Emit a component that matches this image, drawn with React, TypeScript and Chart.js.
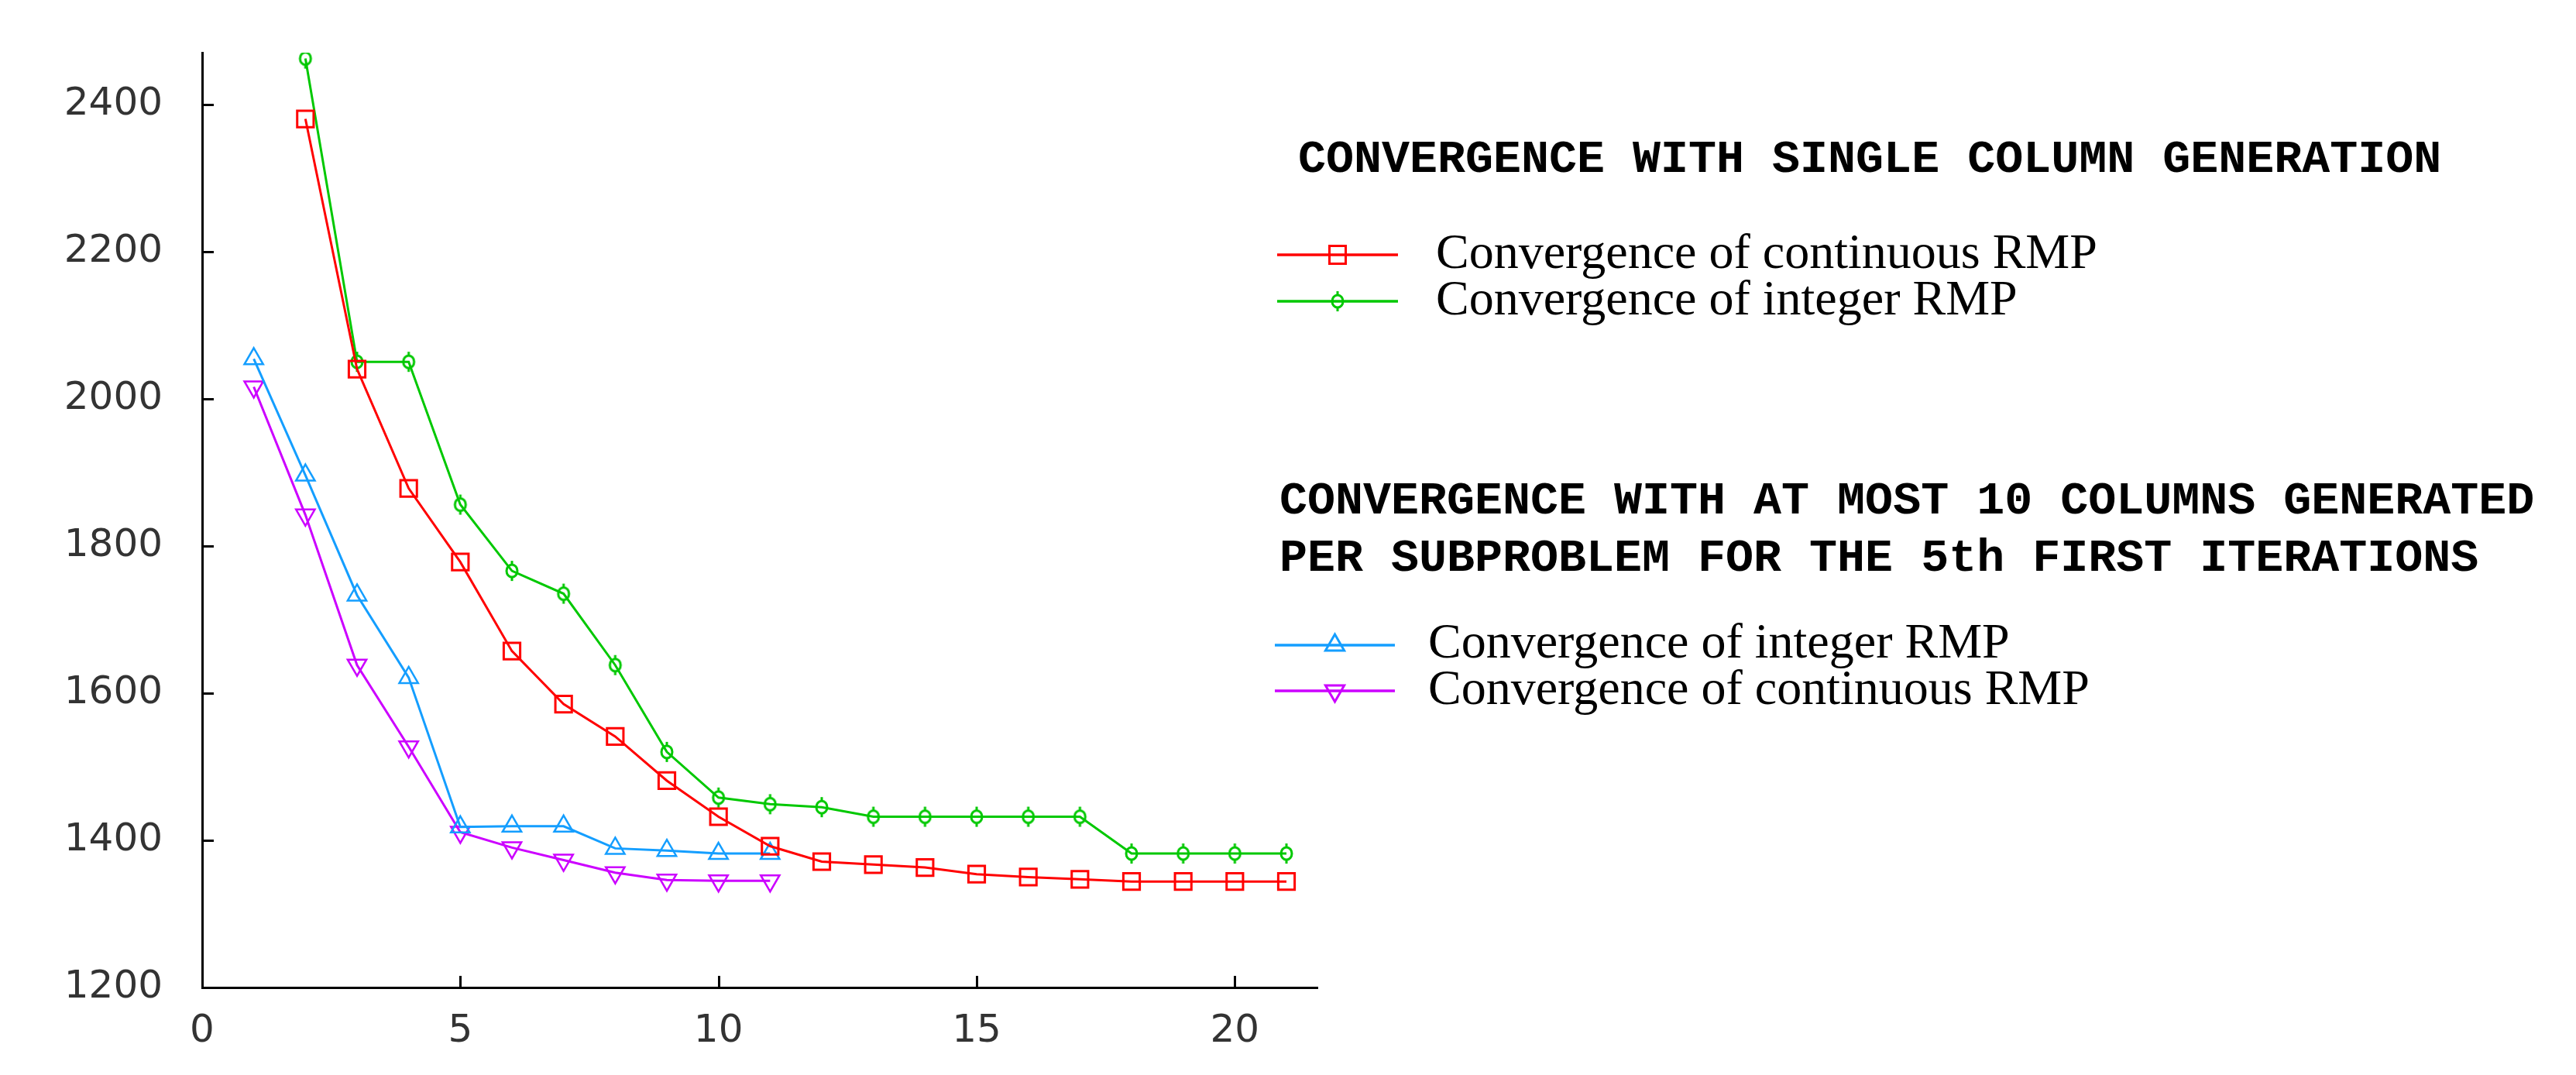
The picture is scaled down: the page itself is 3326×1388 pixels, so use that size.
import React, { useEffect, useRef } from "react";
import { Chart, registerables } from "chart.js";

Chart.register(...registerables);

const W = 3326;
const H = 1388;

// ---- data ----
const singleIterations = [2, 3, 4, 5, 6, 7, 8, 9, 10, 11, 12, 13, 14, 15, 16, 17, 18, 19, 20, 21];
const singleContinuous = [2380, 2040, 1878, 1778, 1657, 1585, 1541, 1481, 1432, 1392, 1371, 1367, 1363, 1354, 1350, 1347, 1344, 1344, 1344, 1344];
const singleInteger = [2462, 2050, 2050, 1856, 1766, 1735, 1638, 1520, 1458, 1449, 1445, 1432, 1432, 1432, 1432, 1432, 1382, 1382, 1382, 1382];
const multiIterations = [1, 2, 3, 4, 5, 6, 7, 8, 9, 10, 11];
const multiInteger = [2054, 1896, 1733, 1621, 1418, 1419, 1419, 1389, 1386, 1382, 1382];
const multiContinuous = [2016, 1842, 1638, 1527, 1411, 1390, 1373, 1356, 1346, 1345, 1345];

const xTicks = [0, 5, 10, 15, 20];
const yTicks = [1200, 1400, 1600, 1800, 2000, 2200, 2400];

const legendTitle1 = "CONVERGENCE WITH SINGLE COLUMN GENERATION";
const legendTitle2a = "CONVERGENCE WITH AT MOST 10 COLUMNS GENERATED";
const legendTitle2b = "PER SUBPROBLEM FOR THE 5th FIRST ITERATIONS";
const seriesLabels = [
  "Convergence of continuous RMP",
  "Convergence of integer RMP",
  "Convergence of integer RMP",
  "Convergence of continuous RMP",
];

const RED = "rgb(255,0,0)";
const GREEN = "rgb(0,200,0)";
const BLUE = "rgb(20,158,255)";
const PURPLE = "rgb(204,0,255)";

function drawGreenMarker(g: CanvasRenderingContext2D, cx: number, cy: number) {
  g.save();
  g.strokeStyle = GREEN;
  g.lineWidth = 3;
  g.beginPath();
  g.ellipse(cx, cy, 7, 8, 0, 0, Math.PI * 2);
  g.stroke();
  g.beginPath();
  g.moveTo(cx, cy - 8);
  g.lineTo(cx, cy - 13);
  g.moveTo(cx, cy + 8);
  g.lineTo(cx, cy + 13);
  g.stroke();
  g.restore();
}

function makeGreenMarker(): HTMLCanvasElement {
  const c = document.createElement("canvas");
  c.width = 30;
  c.height = 30;
  const g = c.getContext("2d")!;
  drawGreenMarker(g, 15, 15);
  return c;
}

function drawMarker(g: CanvasRenderingContext2D, kind: string, color: string, cx: number, cy: number) {
  g.save();
  g.strokeStyle = color;
  g.lineWidth = 3;
  if (kind === "rect") {
    g.strokeRect(cx - 10.5, cy - 11.5, 21, 23);
  } else if (kind === "green") {
    drawGreenMarker(g, cx, cy);
  } else if (kind === "tri") {
    const r = 14;
    g.beginPath();
    g.moveTo(cx, cy - r);
    g.lineTo(cx + r * 0.866, cy + r * 0.5);
    g.lineTo(cx - r * 0.866, cy + r * 0.5);
    g.closePath();
    g.stroke();
  } else if (kind === "itri") {
    const r = 14;
    g.beginPath();
    g.moveTo(cx, cy + r);
    g.lineTo(cx + r * 0.866, cy - r * 0.5);
    g.lineTo(cx - r * 0.866, cy - r * 0.5);
    g.closePath();
    g.stroke();
  }
  g.restore();
}

const legendPlugin = {
  id: "customLegend",
  afterDraw(chart: any) {
    const g: CanvasRenderingContext2D = chart.ctx;
    g.save();
    g.fillStyle = "#000";
    g.textAlign = "left";
    g.textBaseline = "alphabetic";
    g.font = "bold 60px 'Liberation Mono'";
    g.fillText(legendTitle1, 1676, 222);
    g.fillText(legendTitle2a, 1652, 663);
    g.fillText(legendTitle2b, 1652, 737);

    const items = [
      { color: RED, kind: "rect", y: 329, base: 346, x0: 1649, x1: 1805, tx: 1854 },
      { color: GREEN, kind: "green", y: 389, base: 406, x0: 1649, x1: 1805, tx: 1854 },
      { color: BLUE, kind: "tri", y: 833, base: 849, x0: 1646, x1: 1801, tx: 1844 },
      { color: PURPLE, kind: "itri", y: 892, base: 909, x0: 1646, x1: 1801, tx: 1844 },
    ];
    g.font = "64px 'Liberation Serif'";
    items.forEach((it, i) => {
      g.strokeStyle = it.color;
      g.lineWidth = 3.5;
      g.beginPath();
      g.moveTo(it.x0, it.y);
      g.lineTo(it.x1, it.y);
      g.stroke();
      drawMarker(g, it.kind, it.color, (it.x0 + it.x1) / 2, it.y);
      g.fillStyle = "#000";
      g.fillText(seriesLabels[i], it.tx, it.base);
    });
    g.restore();
  },
};

const innerTicksPlugin = {
  id: "innerTicks",
  afterDatasetsDraw(chart: any) {
    const g: CanvasRenderingContext2D = chart.ctx;
    const xs = chart.scales.x;
    const ys = chart.scales.y;
    const area = chart.chartArea;
    g.save();
    g.strokeStyle = "#000";
    g.lineWidth = 3;
    g.beginPath();
    yTicks.forEach((v) => {
      const py = Math.round(ys.getPixelForValue(v)) + 0.5;
      g.moveTo(area.left, py);
      g.lineTo(area.left + 15, py);
    });
    xTicks.forEach((v) => {
      if (v === 0) return;
      const px = Math.round(xs.getPixelForValue(v)) + 0.5;
      g.moveTo(px, area.bottom);
      g.lineTo(px, area.bottom - 15);
    });
    g.stroke();
    g.restore();
  },
};

export default function App() {
  const ref = useRef<HTMLCanvasElement | null>(null);

  useEffect(() => {
    document.body.style.margin = "0";
    document.body.style.overflow = "hidden";
    const canvas = ref.current!;
    const greenImg = makeGreenMarker();
    const toPts = (xs: number[], ys: number[]) => xs.map((x, i) => ({ x, y: ys[i] }));

    const chart = new Chart(canvas, {
      type: "line",
      data: {
        datasets: [
          {
            label: seriesLabels[0],
            data: toPts(singleIterations, singleContinuous),
            borderColor: RED,
            backgroundColor: "rgba(0,0,0,0)",
            borderWidth: 3,
            pointStyle: "rect",
            pointRadius: 15,
            pointBorderWidth: 3,
            pointBorderColor: RED,
            pointBackgroundColor: "rgba(0,0,0,0)",
          },
          {
            label: seriesLabels[1],
            data: toPts(singleIterations, singleInteger),
            borderColor: GREEN,
            backgroundColor: "rgba(0,0,0,0)",
            borderWidth: 3,
            pointStyle: greenImg as any,
            pointRadius: 13,
          },
          {
            label: seriesLabels[2],
            data: toPts(multiIterations, multiInteger),
            borderColor: BLUE,
            backgroundColor: "rgba(0,0,0,0)",
            borderWidth: 3,
            pointStyle: "triangle",
            pointRadius: 14,
            pointBorderWidth: 2.5,
            pointBorderColor: BLUE,
            pointBackgroundColor: "rgba(0,0,0,0)",
          },
          {
            label: seriesLabels[3],
            data: toPts(multiIterations, multiContinuous),
            borderColor: PURPLE,
            backgroundColor: "rgba(0,0,0,0)",
            borderWidth: 3,
            pointStyle: "triangle",
            pointRotation: 180,
            pointRadius: 14,
            pointBorderWidth: 2.5,
            pointBorderColor: PURPLE,
            pointBackgroundColor: "rgba(0,0,0,0)",
          },
        ],
      },
      options: {
        responsive: false,
        animation: false,
        devicePixelRatio: 1,
        layout: { padding: { left: 0, right: 1625, top: 68, bottom: 0 } },
        plugins: {
          legend: { display: false },
          tooltip: { enabled: false },
          title: { display: false },
        },
        elements: { line: { tension: 0, fill: false } },
        scales: {
          x: {
            type: "linear",
            min: 0,
            max: 21.6,
            afterBuildTicks: (s: any) => {
              s.ticks = xTicks.map((v) => ({ value: v }));
            },
            afterFit: (s: any) => {
              s.height = 113;
              s.paddingLeft = 0;
              s.paddingRight = 0;
            },
            grid: { display: false, drawTicks: false },
            border: { display: true, color: "#000", width: 3 },
            ticks: {
              padding: 27,
              color: "#333",
              font: { family: "'DejaVu Sans'", size: 50 },
              maxRotation: 0,
              autoSkip: false,
              callback: (v: any) => String(v),
            },
          },
          y: {
            type: "linear",
            min: 1200,
            max: 2470,
            afterBuildTicks: (s: any) => {
              s.ticks = yTicks.map((v) => ({ value: v }));
            },
            afterFit: (s: any) => {
              s.width = 261;
              s.paddingTop = 0;
              s.paddingBottom = 0;
            },
            grid: { display: false, drawTicks: false },
            border: { display: true, color: "#000", width: 3 },
            ticks: {
              padding: 51,
              color: "#333",
              font: { family: "'DejaVu Sans'", size: 50 },
              autoSkip: false,
              callback: (v: any) => String(v),
            },
          },
        },
      },
      plugins: [innerTicksPlugin, legendPlugin],
    });
    return () => chart.destroy();
  }, []);

  return (
    <div style={{ width: W, height: H, background: "#fff" }}>
      <canvas ref={ref} width={W} height={H} style={{ display: "block", width: W, height: H }} />
    </div>
  );
}
